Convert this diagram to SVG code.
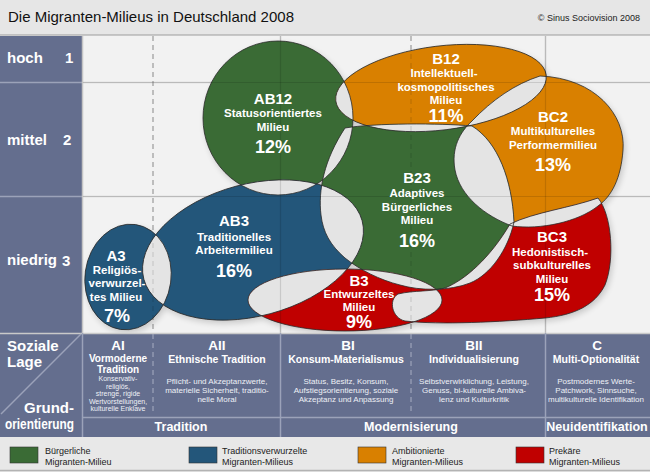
<svg xmlns="http://www.w3.org/2000/svg" width="650" height="472" viewBox="0 0 650 472">
<defs>
<style>
.f{font-family:"Liberation Sans",Arial,Helvetica,sans-serif}
.t{font-family:"Liberation Sans",Arial,Helvetica,sans-serif;fill:#fff;font-weight:bold;text-anchor:middle}
.code{font-size:15px}
.nm{font-size:11.5px}
.pc{font-size:18px}
.g{fill:#3a6b35}.b{fill:#23567a}.o{fill:#d98000}.r{fill:#c00000}
.ov{fill:#e4e4e4}
.ol{fill:none;stroke:#2a2a2a;stroke-width:0.8}
.lab{font-family:"Liberation Sans",Arial,Helvetica,sans-serif;fill:#fff;font-weight:bold;font-size:15px}
.th{font-size:13.5px}
.ts{font-size:10.5px}
.ts2{font-size:10px}
.tx{font-size:8px;font-weight:normal;fill:#eef0f6}
.ty{font-size:7px;font-weight:normal;fill:#eef0f6}
.tb{font-size:12.5px}
.leg{font-family:"Liberation Sans",Arial,Helvetica,sans-serif;font-size:9px;fill:#222}
.grid{stroke:#d4d4d4;stroke-width:1.5}
.gdash{stroke:#a8a8a8;stroke-width:1;stroke-dasharray:5 4}
.over{stroke:#000;stroke-opacity:0.12;stroke-width:1.2}
.overd{stroke:#000;stroke-opacity:0.15;stroke-width:1;stroke-dasharray:5 4}
.tl{stroke:#9ba2b9;stroke-width:1.5}
.tld{stroke:#a7adc2;stroke-width:1;stroke-dasharray:5 4}
</style>
<ellipse id="sAB12" cx="278" cy="118" rx="75" ry="77"/>
<ellipse id="sB12" cx="441" cy="88" rx="106" ry="42" transform="rotate(-7 441 88)"/>
<path id="sBC2" d="M540,76 C595,78 626,115 623,150 C621,178 612,196 598,206 C578,222 540,230 512,226 C485,216 460,196 455,170 C451,148 460,132 472,121 C492,100 515,84 540,76 Z"/>
<path id="sB23" d="M345,128 C375,123 440,123 472,126 C498,142 512,180 514,222 C508,250 490,275 470,283 C450,291 420,291 400,285 C380,280 360,270 345,258 C330,245 323,232 321,215 C318,190 324,160 345,128 Z"/>
<ellipse id="sAB3" cx="253" cy="250" rx="113" ry="66" transform="rotate(-15 253 250)"/>
<ellipse id="sA3" cx="128" cy="277" rx="43" ry="53" transform="rotate(8 128 277)"/>
<ellipse id="sB3" cx="345" cy="300" rx="97" ry="31"/>
<path id="sBC3" d="M598,198 C612,215 615,260 605,285 C595,305 575,315 545,318 C500,322 440,325 405,321 C392,318 388,300 398,294 C415,290 430,292 445,288 C465,280 490,258 510,224 C535,212 570,208 598,198 Z"/>
<clipPath id="cAB12"><use href="#sAB12"/></clipPath>
<clipPath id="cB12"><use href="#sB12"/></clipPath>
<clipPath id="cBC2"><use href="#sBC2"/></clipPath>
<clipPath id="cB23"><use href="#sB23"/></clipPath>
<clipPath id="cAB3"><use href="#sAB3"/></clipPath>
<clipPath id="cB3"><use href="#sB3"/></clipPath>
<filter id="sh" x="-10%" y="-10%" width="120%" height="120%"><feGaussianBlur stdDeviation="3"/></filter>
</defs>

<!-- header -->
<rect x="0" y="0" width="650" height="35" fill="#e6e6e6"/>
<line x1="0" y1="35" x2="650" y2="35" stroke="#b5b5b5" stroke-width="1.5"/>
<text class="f" x="8" y="22" font-size="15" fill="#111">Die Migranten-Milieus in Deutschland 2008</text>
<text class="f" x="640" y="21" font-size="9" fill="#222" text-anchor="end">© Sinus Sociovision 2008</text>

<!-- chart background -->
<rect x="83" y="36" width="567" height="297" fill="#f2f2f2"/>
<g id="grid">
<line class="grid" x1="83" y1="82.5" x2="650" y2="82.5"/>
<line class="grid" x1="83" y1="196.5" x2="650" y2="196.5"/>
<line class="grid" x1="280.5" y1="36" x2="280.5" y2="333"/>
<line class="grid" x1="545.5" y1="36" x2="545.5" y2="333"/>
<line class="gdash" x1="153" y1="36" x2="153" y2="333"/>
<line class="gdash" x1="411" y1="36" x2="411" y2="333"/>
</g>

<!-- left axis -->
<g id="axis">
<rect x="0" y="36" width="82" height="297" fill="#646e8e"/>
<line class="tl" x1="0" y1="82.5" x2="82" y2="82.5"/>
<line class="tl" x1="0" y1="196.5" x2="82" y2="196.5"/>
<line x1="82.5" y1="36" x2="82.5" y2="333" stroke="#c4c4c4" stroke-width="1.5"/>
<text class="lab" x="7" y="63">hoch</text><text class="lab" x="65" y="63" font-size="16">1</text>
<text class="lab" x="7" y="145">mittel</text><text class="lab" x="63" y="145" font-size="16">2</text>
<text class="lab" x="7" y="265">niedrig</text><text class="lab" x="62" y="266" font-size="16">3</text>
</g>

<!-- shadow -->
<g id="shadow" filter="url(#sh)" fill="#000" opacity="0.18" transform="translate(2 3)">
<use href="#sAB12"/><use href="#sB12"/><use href="#sBC2"/><use href="#sB23"/><use href="#sAB3"/><use href="#sA3"/><use href="#sB3"/><use href="#sBC3"/>
</g>

<!-- nodes -->
<g id="AB12"><use href="#sAB12" class="g"/></g>
<g id="B12"><use href="#sB12" class="o"/></g>
<g id="BC2"><use href="#sBC2" class="o"/></g>
<g id="B23"><use href="#sB23" class="g"/></g>
<g id="AB3"><use href="#sAB3" class="b"/></g>
<g id="A3"><use href="#sA3" class="b"/></g>
<g id="B3"><use href="#sB3" class="r"/></g>
<g id="BC3"><use href="#sBC3" class="r"/></g>

<!-- overlaps and outlines -->
<g id="connectors">
<use href="#sB12" class="ov" clip-path="url(#cAB12)"/>
<use href="#sB23" class="ov" clip-path="url(#cAB12)"/>
<use href="#sAB3" class="ov" clip-path="url(#cAB12)"/>
<use href="#sB23" class="ov" clip-path="url(#cB12)"/>
<use href="#sBC2" class="ov" clip-path="url(#cB12)"/>
<use href="#sBC2" class="ov" clip-path="url(#cB23)"/>
<use href="#sBC3" class="ov" clip-path="url(#cBC2)"/>
<use href="#sBC3" class="ov" clip-path="url(#cB23)"/>
<use href="#sAB3" class="ov" clip-path="url(#cB23)"/>
<use href="#sB3" class="ov" clip-path="url(#cB23)"/>
<use href="#sA3" class="ov" clip-path="url(#cAB3)"/>
<use href="#sB3" class="ov" clip-path="url(#cAB3)"/>
<use href="#sBC3" class="ov" clip-path="url(#cB3)"/>
<use href="#sAB12" class="ol"/><use href="#sB12" class="ol"/><use href="#sBC2" class="ol"/><use href="#sB23" class="ol"/>
<use href="#sAB3" class="ol"/><use href="#sA3" class="ol"/><use href="#sB3" class="ol"/><use href="#sBC3" class="ol"/>
</g>

<!-- faint grid over shapes -->
<g id="gridover">
<line class="over" x1="83" y1="82.5" x2="650" y2="82.5"/>
<line class="over" x1="83" y1="196.5" x2="650" y2="196.5"/>
<line class="over" x1="280.5" y1="36" x2="280.5" y2="333"/>
<line class="over" x1="545.5" y1="36" x2="545.5" y2="333"/>
<line class="overd" x1="153" y1="36" x2="153" y2="333"/>
<line class="overd" x1="411" y1="36" x2="411" y2="333"/>
</g>

<!-- labels -->
<g id="AB12-label">
<text class="t code" x="273" y="104">AB12</text>
<text class="t nm" x="273" y="117">Statusorientiertes</text>
<text class="t nm" x="273" y="131">Milieu</text>
<text class="t pc" x="273" y="153">12%</text>
</g>
<g id="B12-label">
<text class="t code" x="446" y="64">B12</text>
<text class="t nm" x="444" y="77">Intellektuell-</text>
<text class="t nm" x="446" y="91">kosmopolitisches</text>
<text class="t nm" x="446" y="104">Milieu</text>
<text class="t pc" x="446" y="122">11%</text>
</g>
<g id="BC2-label">
<text class="t code" x="553" y="122">BC2</text>
<text class="t nm" x="553" y="135">Multikulturelles</text>
<text class="t nm" x="553" y="149">Performermilieu</text>
<text class="t pc" x="553" y="171">13%</text>
</g>
<g id="B23-label">
<text class="t code" x="417" y="183">B23</text>
<text class="t nm" x="417" y="197">Adaptives</text>
<text class="t nm" x="417" y="211">Bürgerliches</text>
<text class="t nm" x="417" y="224">Milieu</text>
<text class="t pc" x="417" y="247">16%</text>
</g>
<g id="AB3-label">
<text class="t code" x="234" y="226">AB3</text>
<text class="t nm" x="234" y="241">Traditionelles</text>
<text class="t nm" x="234" y="254">Arbeitermilieu</text>
<text class="t pc" x="234" y="277">16%</text>
</g>
<g id="A3-label">
<text class="t code" x="116" y="261">A3</text>
<text class="t nm" x="117" y="274">Religiös-</text>
<text class="t nm" x="117" y="287">verwurzel-</text>
<text class="t nm" x="116" y="301">tes Milieu</text>
<text class="t pc" x="117" y="322">7%</text>
</g>
<g id="B3-label">
<text class="t code" x="359" y="286">B3</text>
<text class="t nm" x="359" y="298">Entwurzeltes</text>
<text class="t nm" x="359" y="311">Milieu</text>
<text class="t pc" x="359" y="328">9%</text>
</g>
<g id="BC3-label">
<text class="t code" x="552" y="242">BC3</text>
<text class="t nm" x="550" y="256">Hedonistisch-</text>
<text class="t nm" x="552" y="269">subkulturelles</text>
<text class="t nm" x="552" y="283">Milieu</text>
<text class="t pc" x="552" y="301">15%</text>
</g>

<!-- bottom table -->
<g id="table">
<rect x="0" y="333" width="650" height="104" fill="#646e8e"/>
<line x1="0" y1="333.5" x2="650" y2="333.5" stroke="#c9c9c9" stroke-width="1.5"/>
<line class="tl" x1="82" y1="417.5" x2="650" y2="417.5"/>
<line class="tl" x1="82.5" y1="333" x2="82.5" y2="437"/>
<line class="tl" x1="280.5" y1="333" x2="280.5" y2="437"/>
<line class="tl" x1="545.5" y1="333" x2="545.5" y2="437"/>
<line class="tld" x1="153" y1="334" x2="153" y2="414"/>
<line class="tld" x1="411" y1="334" x2="411" y2="414"/>
<line class="tl" x1="1" y1="414" x2="81" y2="334"/>
<text class="lab" x="7" y="351" font-size="12.5">Soziale</text>
<text class="lab" x="7" y="367" font-size="12.5">Lage</text>
<text class="lab" x="74" y="413" font-size="12.5" text-anchor="end">Grund-</text>
<text class="lab" x="5" y="429" font-size="12.5" textLength="69" lengthAdjust="spacingAndGlyphs">orientierung</text>

<text class="t th" x="118" y="350">AI</text>
<text class="t ts2" x="118" y="361.5">Vormoderne</text>
<text class="t ts2" x="118" y="372.5">Tradition</text>
<text class="t ty" x="118" y="381">Konservativ-</text>
<text class="t ty" x="118" y="388.5">religiös,</text>
<text class="t ty" x="118" y="396">strenge, rigide</text>
<text class="t ty" x="118" y="403.5">Wertvorstellungen,</text>
<text class="t ty" x="118" y="411">kulturelle Enklave</text>

<text class="t th" x="217" y="350">AII</text>
<text class="t ts" x="217" y="363">Ethnische Tradition</text>
<text class="t tx" x="217" y="384">Pflicht- und Akzeptanzwerte,</text>
<text class="t tx" x="217" y="393">materielle Sicherheit, traditio-</text>
<text class="t tx" x="217" y="402">nelle Moral</text>

<text class="t th" x="348" y="350">BI</text>
<text class="t ts" x="346" y="363">Konsum-Materialismus</text>
<text class="t tx" x="346" y="384">Status, Besitz, Konsum,</text>
<text class="t tx" x="346" y="393">Aufstiegsorientierung, soziale</text>
<text class="t tx" x="346" y="402">Akzeptanz und Anpassung</text>

<text class="t th" x="474" y="350">BII</text>
<text class="t ts" x="474" y="363">Individualisierung</text>
<text class="t tx" x="474" y="384">Selbstverwirklichung, Leistung,</text>
<text class="t tx" x="474" y="393">Genuss, bi-kulturelle Ambiva-</text>
<text class="t tx" x="474" y="402">lenz und Kulturkritik</text>

<text class="t th" x="597" y="350">C</text>
<text class="t ts" x="596" y="363">Multi-Optionalität</text>
<text class="t tx" x="596" y="384">Postmodernes Werte-</text>
<text class="t tx" x="596" y="393">Patchwork, Sinnsuche,</text>
<text class="t tx" x="596" y="402">multikulturelle Identifikation</text>

<text class="t tb" x="181" y="431">Tradition</text>
<text class="t tb" x="411" y="431">Modernisierung</text>
<text class="t tb" x="597" y="431">Neuidentifikation</text>
</g>

<!-- legend -->
<g id="legend">
<rect x="0" y="437" width="650" height="35" fill="#e8e8e8"/>
<line x1="0" y1="470.5" x2="650" y2="470.5" stroke="#b3b3b3" stroke-width="1.5"/>
<rect x="10" y="447" width="28" height="16" class="g" stroke="#333" stroke-width="0.6"/>
<text class="leg" x="45" y="454">Bürgerliche</text><text class="leg" x="45" y="465">Migranten-Milieu</text>
<rect x="189" y="447" width="28" height="16" class="b" stroke="#333" stroke-width="0.6"/>
<text class="leg" x="222" y="454">Traditionsverwurzelte</text><text class="leg" x="222" y="465">Migranten-Milieus</text>
<rect x="358" y="447" width="28" height="16" class="o" stroke="#333" stroke-width="0.6"/>
<text class="leg" x="392" y="454">Ambitionierte</text><text class="leg" x="392" y="465">Migranten-Milieus</text>
<rect x="516" y="447" width="28" height="16" class="r" stroke="#333" stroke-width="0.6"/>
<text class="leg" x="549" y="454">Prekäre</text><text class="leg" x="549" y="465">Migranten-Milieus</text>
</g>
</svg>
